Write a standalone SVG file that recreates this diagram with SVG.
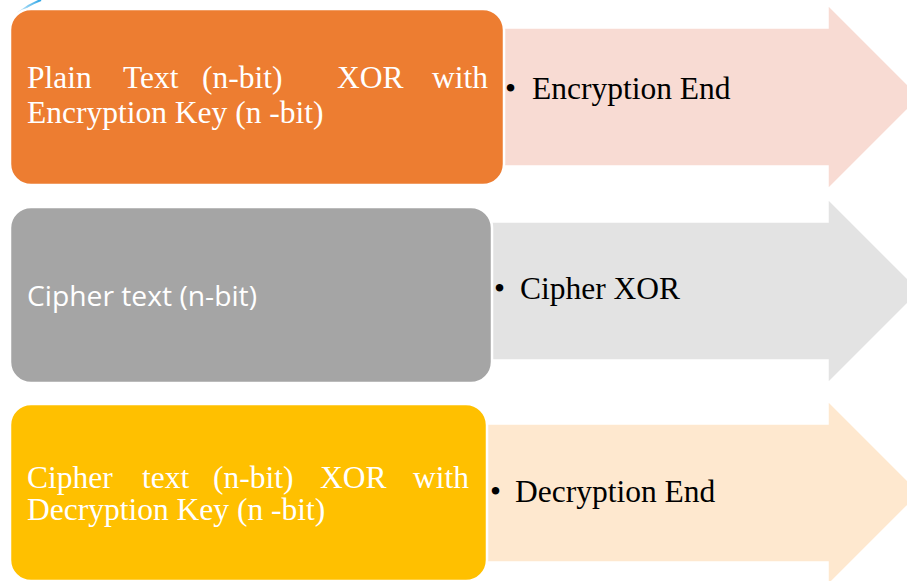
<svg xmlns="http://www.w3.org/2000/svg" width="907" height="581" viewBox="0 0 907 581">
  <defs>
    <linearGradient id="arcGrad" x1="0" y1="1" x2="1" y2="0">
      <stop offset="0" stop-color="#d6effb"/>
      <stop offset="1" stop-color="#2ea6e6"/>
    </linearGradient>
    <!-- block arrow: body 138 tall, head 184 tall, centred on y=0; tail hidden behind the box -->
    <path id="arrowShape" d="M0,-69 H358 V-92 L450,0 L358,92 V69 H0 Z"/>
  </defs>
  <style>
    .box { stroke: #ffffff; stroke-width: 2.5; }
    .arrow { stroke: #ffffff; stroke-width: 1.5; }
    .serifW { font-family: "Liberation Serif", "Times New Roman", serif; font-size: 31.5px; fill: #ffffff; }
    .sansW { font-family: "Open Sans", "Noto Sans", sans-serif; font-size: 28px; fill: #ffffff; }
    .label { font-family: "Liberation Serif", "Times New Roman", serif; font-size: 31.5px; fill: #000000; }
  </style>
  <rect width="907" height="581" fill="#ffffff"/>

  <!-- small blue arc at the top-left corner -->
  <path d="M18,13 Q28,5 41,0" fill="none" stroke="url(#arcGrad)" stroke-width="2.2"/>

  <!-- connectors: the block arrows behind each box -->
  <g id="connectors">
    <use href="#arrowShape" class="arrow" x="470" y="97" fill="#f8dbd3"/>
    <use href="#arrowShape" class="arrow" x="470" y="291" fill="#e3e3e3"/>
    <use href="#arrowShape" class="arrow" x="470" y="493" fill="#fee8cf"/>
  </g>

  <g id="encryption">
    <rect class="box" x="10" y="9" width="494" height="176" rx="21" fill="#ed7d31"/>
    <text class="serifW" y="88">
      <tspan x="27">Plain</tspan>
      <tspan x="123">Text</tspan>
      <tspan x="202">(n-bit)</tspan>
      <tspan x="337">XOR</tspan>
      <tspan x="432">with</tspan>
    </text>
    <text class="serifW" x="27" y="123">Encryption Key (n -bit)</text>
  </g>
  <text class="label" y="99"><tspan x="505">•</tspan><tspan x="532">Encryption End</tspan></text>

  <g id="cipher">
    <rect class="box" x="10" y="207" width="482" height="176" rx="21" fill="#a5a5a5"/>
    <text class="sansW" x="27" y="306" textLength="230" lengthAdjust="spacingAndGlyphs">Cipher text (n-bit)</text>
  </g>
  <text class="label" y="299"><tspan x="494">•</tspan><tspan x="520">Cipher XOR</tspan></text>

  <g id="decryption">
    <rect class="box" x="10" y="404" width="477" height="177" rx="21" fill="#ffc000"/>
    <text class="serifW" y="488">
      <tspan x="27">Cipher</tspan>
      <tspan x="142">text</tspan>
      <tspan x="213">(n-bit)</tspan>
      <tspan x="320">XOR</tspan>
      <tspan x="413">with</tspan>
    </text>
    <text class="serifW" x="27" y="520">Decryption Key (n -bit)</text>
  </g>
  <text class="label" y="502"><tspan x="490">•</tspan><tspan x="515">Decryption End</tspan></text>
</svg>
